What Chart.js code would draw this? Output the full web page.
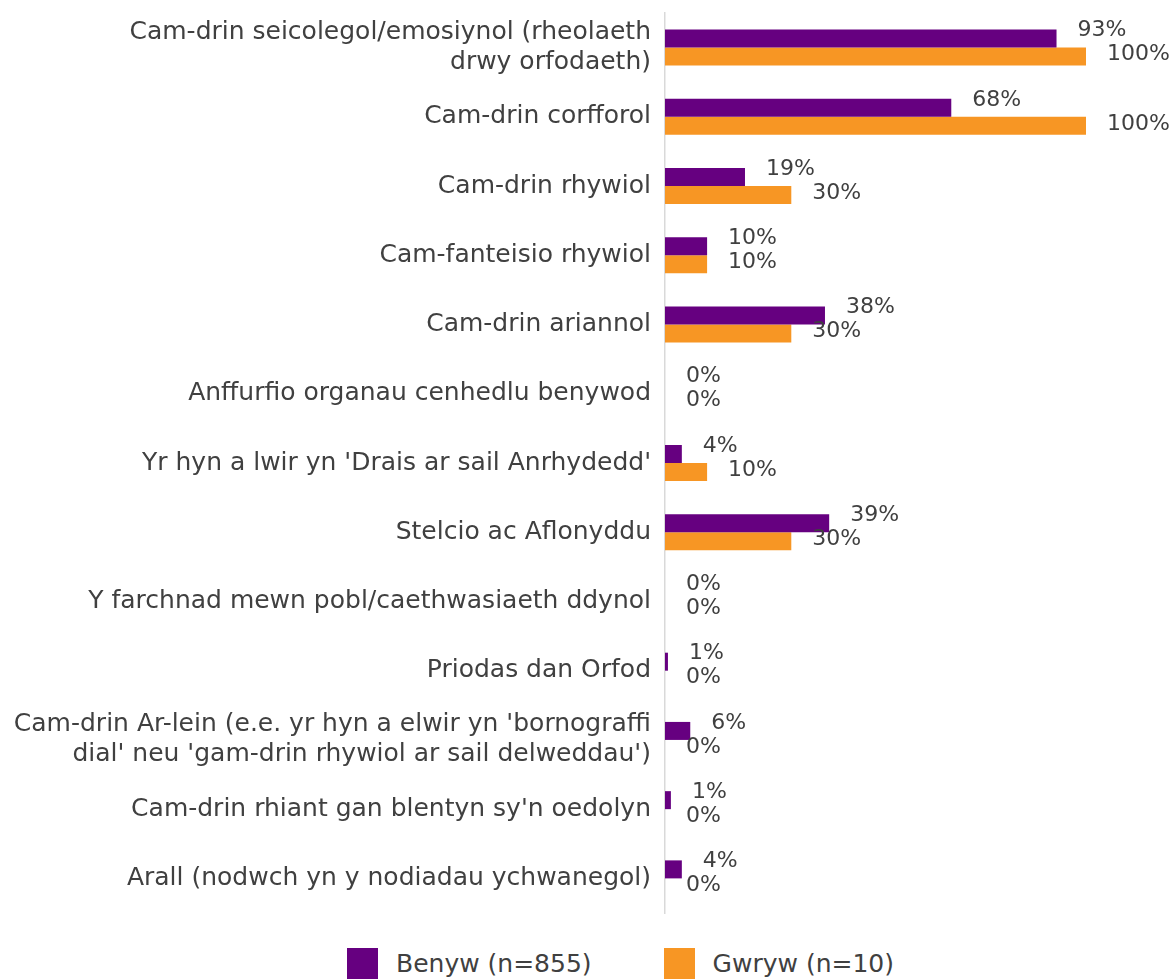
<!DOCTYPE html>
<html>
<head>
<meta charset="utf-8">
<script src="https://cdn.jsdelivr.net/npm/chart.js@4/dist/chart.umd.min.js"></script>
<style>
  html,body{margin:0;padding:0;background:#fff;}
  #wrap{width:1173px;height:979px;position:relative;}
  #chartBox{position:absolute;left:0;top:0;width:1173px;height:930px;}
  #legend{position:absolute;left:347px;top:948px;display:flex;align-items:center;
    font-family:"DejaVu Sans",sans-serif;font-size:25px;color:#404040;}
  #legend .item{display:flex;align-items:center;}
  #legend .sw{width:31px;height:31px;margin-right:18px;}
</style>
</head>
<body>
<div id="wrap">
  <div id="chartBox"><canvas id="chart"></canvas></div>
  <div id="legend"></div>
</div>
<script>
// Data
const categories = [
  ['Cam-drin seicolegol/emosiynol (rheolaeth', 'drwy orfodaeth)'],
  'Cam-drin corfforol',
  'Cam-drin rhywiol',
  'Cam-fanteisio rhywiol',
  'Cam-drin ariannol',
  'Anffurfio organau cenhedlu benywod',
  "Yr hyn a lwir yn 'Drais ar sail Anrhydedd'",
  'Stelcio ac Aflonyddu',
  'Y farchnad mewn pobl/caethwasiaeth ddynol',
  'Priodas dan Orfod',
  ["Cam-drin Ar-lein (e.e. yr hyn a elwir yn 'bornograffi", "dial' neu 'gam-drin rhywiol ar sail delweddau')"],
  "Cam-drin rhiant gan blentyn sy'n oedolyn",
  'Arall (nodwch yn y nodiadau ychwanegol)'
];
const benyw = [93, 68, 19, 10, 38, 0, 4, 39, 0, 0.7, 6, 1.4, 4];
const gwryw = [100, 100, 30, 10, 30, 0, 10, 30, 0, 0, 0, 0, 0];
const seriesNames = ['Benyw (n=855)', 'Gwryw (n=10)'];
const seriesColors = ['#660080', '#f79624'];

const FONT = '"DejaVu Sans", sans-serif';
const TEXT = '#404040';

// Draw value labels just past the end of each bar
const valueLabels = {
  id: 'valueLabels',
  afterDatasetsDraw(chart){
    const ctx = chart.ctx;
    ctx.save();
    ctx.font = '22px ' + FONT;
    ctx.fillStyle = TEXT;
    ctx.textAlign = 'left';
    ctx.textBaseline = 'middle';
    chart.data.datasets.forEach((ds, di)=>{
      const meta = chart.getDatasetMeta(di);
      meta.data.forEach((bar, i)=>{
        const v = ds.data[i];
        const dy = di === 0 ? -8 : -2;
        ctx.fillText(Math.round(v) + '%', bar.x + 21, bar.y + dy);
      });
    });
    ctx.restore();
  }
};

const chart = new Chart(document.getElementById('chart'), {
  type: 'bar',
  data: {
    labels: categories,
    datasets: [
      {label:seriesNames[0], data:benyw, backgroundColor:seriesColors[0], borderWidth:0},
      {label:seriesNames[1], data:gwryw, backgroundColor:seriesColors[1], borderWidth:0}
    ]
  },
  options: {
    indexAxis: 'y',
    responsive: true,
    maintainAspectRatio: false,
    animation: false,
    layout: {padding:{top:13, right:87, left:0, bottom:17}},
    datasets: {bar:{categoryPercentage:0.52, barPercentage:1}},
    plugins: {
      tooltip:{enabled:false},
      legend:{display:false}
    },
    scales: {
      x: {display:false, min:0, max:100},
      y: {
        grid:{display:false, drawTicks:false},
        border:{display:true, color:'#d9d9d9', width:1.5},
        ticks:{color:TEXT, padding:14, font:{family:FONT, size:25, lineHeight:1.2}},
        afterFit(scale){ scale.width = 665; scale.paddingTop = 0; scale.paddingBottom = 0; }
      }
    }
  },
  plugins:[valueLabels]
});

// legend (HTML, for spacing control)
const legendEl = document.getElementById('legend');
chart.data.datasets.forEach((ds, i)=>{
  const it = document.createElement('div'); it.className = 'item';
  if(i > 0) it.style.marginLeft = '72px';
  it.innerHTML = `<span class="sw" style="background:${ds.backgroundColor}"></span><span>${ds.label}</span>`;
  legendEl.appendChild(it);
});
</script>
</body>
</html>
